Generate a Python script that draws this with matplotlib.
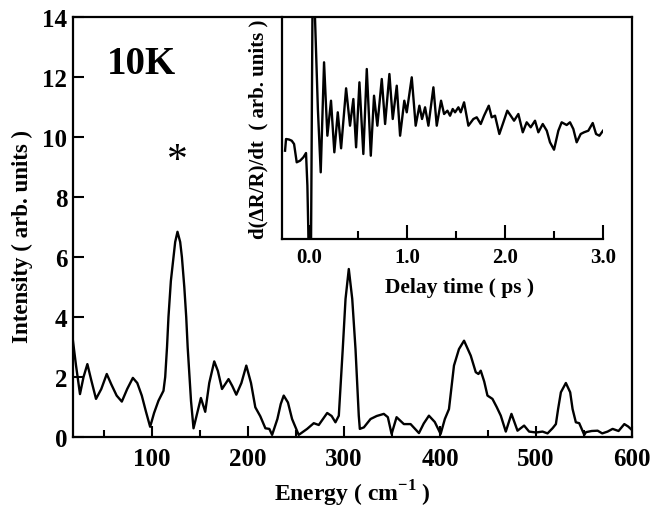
import numpy as np
import matplotlib
matplotlib.use('Agg')
import matplotlib.pyplot as plt
from matplotlib.ticker import MultipleLocator, FormatStrFormatter

plt.rcParams['font.family'] = ['Liberation Serif', 'DejaVu Serif']
plt.rcParams['font.weight'] = 'bold'
plt.rcParams['mathtext.fontset'] = 'custom'
plt.rcParams['mathtext.rm'] = 'Liberation Serif:bold'
plt.rcParams['mathtext.bf'] = 'Liberation Serif:bold'

# main spectrum
energy = [17.5, 20.6, 24.8, 28.5, 32.5, 36.5, 41.5, 47.0, 52.7, 57.5, 63.0, 68.4, 74.0, 79.9,
          84.5, 89.2, 93.5, 97.9, 102.0, 106.6, 111.8, 113.6, 115.5, 117.0, 119.5, 122.3,
          124.0, 126.4, 129.2, 131.0, 133.5, 135.5, 137.0, 139.0, 140.5, 143.1, 147.0,
          150.8, 155.3, 159.5, 164.7, 168.5, 172.8, 179.6, 183.5, 187.7, 193.0, 198.1,
          203.0, 207.5, 212.7, 218.0, 222.1, 225.0, 230.5, 234.0, 237.1, 241.5, 245.8,
          252.7, 261.5, 268.4, 273.6, 278.0, 282.4, 287.0, 291.0, 294.5, 298.6, 301.5,
          304.9, 308.5, 311.9, 315.3, 316.4, 320.6, 327.6, 334.0, 341.4, 345.6, 349.5,
          354.7, 362.3, 369.3, 378.0, 383.0, 388.4, 394.5, 400.6, 405.0, 409.3, 414.5,
          419.7, 425.0, 432.0, 437.2, 440.0, 442.4, 446.0, 449.4, 454.6, 459.0, 463.3,
          468.5, 474.4, 480.7, 487.6, 492.8, 500.0, 506.8, 512.0, 517.2, 520.7, 523.0,
          525.9, 531.1, 535.6, 538.1, 541.5, 545.0, 550.3, 552.0, 558.0, 564.2, 569.0,
          574.6, 579.8, 586.0, 592.0, 596.0, 600.7]
intensity = [3.2, 2.4, 1.43, 2.0, 2.43, 1.9, 1.27, 1.6, 2.1, 1.75, 1.38, 1.18, 1.6, 1.97,
             1.8, 1.38, 0.85, 0.34, 0.8, 1.21, 1.54, 2.0, 3.0, 4.0, 5.2, 6.0,
             6.5, 6.84, 6.5, 6.0, 5.0, 4.0, 3.0, 2.0, 1.2, 0.29, 0.8,
             1.3, 0.84, 1.8, 2.52, 2.2, 1.6, 1.93, 1.7, 1.41, 1.8, 2.38,
             1.8, 0.99, 0.69, 0.29, 0.27, 0.07, 0.6, 1.1, 1.38, 1.15, 0.6,
             0.07, 0.27, 0.46, 0.4, 0.6, 0.8, 0.7, 0.49, 0.71, 2.93, 4.6,
             5.6, 4.6, 2.93, 0.71, 0.27, 0.32, 0.6, 0.7, 0.77, 0.66, 0.1,
             0.66, 0.43, 0.43, 0.13, 0.45, 0.71, 0.5, 0.1, 0.6, 0.93, 2.38,
             2.93, 3.21, 2.71, 2.16, 2.1, 2.21, 1.85, 1.38, 1.27, 1.0, 0.71,
             0.18, 0.77, 0.21, 0.38, 0.18, 0.15, 0.18, 0.12, 0.29, 0.43, 0.93,
             1.49, 1.8, 1.49, 0.93, 0.49, 0.46, 0.07, 0.16, 0.2, 0.21, 0.12,
             0.18, 0.27, 0.2, 0.43, 0.35, 0.21]

# inset: time derivative of reflectivity
delay = [-0.245, -0.235, -0.205, -0.177, -0.153, -0.126, -0.092, -0.058, -0.031, -0.017,
         -0.008, 0.0, 0.018, 0.038, 0.061, 0.09, 0.119, 0.153, 0.187, 0.224, 0.258, 0.293,
         0.327, 0.378, 0.418, 0.452, 0.480, 0.514, 0.554, 0.589, 0.630, 0.663, 0.697,
         0.742, 0.776, 0.82, 0.854, 0.895, 0.929, 0.972, 0.997, 1.048, 1.088, 1.126,
         1.153, 1.184, 1.218, 1.269, 1.303, 1.347, 1.378, 1.412, 1.439, 1.466, 1.49,
         1.524, 1.548, 1.582, 1.626, 1.677, 1.711, 1.752, 1.786, 1.834, 1.864, 1.898,
         1.942, 1.983, 2.023, 2.058, 2.092, 2.136, 2.181, 2.221, 2.262, 2.306, 2.34,
         2.385, 2.426, 2.459, 2.5, 2.544, 2.578, 2.629, 2.663, 2.697, 2.731, 2.772,
         2.806, 2.85, 2.895, 2.929, 2.963, 3.0]
deriv = [8.83, 10.0, 9.95, 9.83, 9.5, 7.67, 7.83, 8.17, 8.6, 5.33,
         1.0, -4.0, -4.0, 28.0, 22.0, 13.0, 6.67, 17.67, 10.33, 13.83, 8.67, 12.67,
         9.07, 15.07, 11.33, 14.0, 9.17, 15.67, 8.5, 17.0, 8.33, 14.33, 11.33,
         16.0, 11.5, 16.5, 12.0, 15.33, 10.33, 13.83, 12.67, 16.17, 11.33, 13.33,
         12.0, 13.17, 11.33, 15.17, 11.33, 13.83, 12.5, 12.83, 12.33, 13.0, 12.67,
         13.17, 12.67, 13.67, 11.33, 12.0, 12.17, 11.5, 12.33, 13.33, 12.17, 12.33,
         10.5, 11.67, 12.83, 12.33, 11.83, 12.5, 10.67, 11.67, 11.17, 11.83, 10.67,
         11.5, 10.83, 9.67, 8.93, 10.83, 11.67, 11.4, 11.67, 11.0, 9.67, 10.5,
         10.67, 10.83, 11.6, 10.5, 10.33, 10.83]

fig = plt.figure(figsize=(6.51, 5.10), dpi=100)
ax = fig.add_axes([0.1121, 0.1412, 0.8587, 0.8235])
ax.plot(energy, intensity, color='black', lw=1.7, solid_joinstyle='round')
ax.set_xlim(17.5, 600)
ax.set_ylim(0, 14)
ax.xaxis.set_major_locator(MultipleLocator(100))
ax.xaxis.set_minor_locator(MultipleLocator(50))
ax.yaxis.set_major_locator(MultipleLocator(2))
ax.tick_params(axis='both', which='major', direction='in', length=8, width=1.5, labelsize=18)
ax.tick_params(axis='x', which='major', pad=7)
ax.tick_params(axis='y', which='major', pad=4)
ax.tick_params(axis='both', which='minor', direction='in', length=5, width=1.5)
ax.tick_params(axis='y', which='minor', left=False)
for s in ax.spines.values():
    s.set_linewidth(1.6)
for lab in ax.get_xticklabels() + ax.get_yticklabels():
    lab.set_fontweight('bold')
ax.set_xlabel(r'Energy ( cm$^{\mathbf{-1}}$ )', fontsize=17, fontweight='bold', labelpad=6)
ax.set_ylabel('Intensity ( arb. units )', fontsize=16.5, fontweight='bold')
ax.yaxis.set_label_coords(-0.091, 0.48)
ax.yaxis.label.set_va('center')
ax.text(0.123, 0.89, '10K', transform=ax.transAxes, fontsize=28, fontweight='bold',
        ha='center', va='center')
ax.text(126.4, 9.2, '*', fontsize=30, fontweight='normal', ha='center', va='center')

ins = fig.add_axes([0.4332, 0.5294, 0.4931, 0.4353])
ins.plot(delay, deriv, color='black', lw=1.7, solid_joinstyle='round')
ins.set_xlim(-0.276, 3.0)
ins.set_ylim(0, 22.2)
ins.patch.set_alpha(0)
ins.spines['top'].set_visible(False)
ins.spines['right'].set_visible(False)
for s in ['left', 'bottom']:
    ins.spines[s].set_linewidth(1.6)
ins.set_yticks([])
ins.xaxis.set_major_locator(MultipleLocator(1.0))
ins.xaxis.set_minor_locator(MultipleLocator(0.5))
ins.xaxis.set_major_formatter(FormatStrFormatter('%.1f'))
ins.tick_params(axis='x', which='major', direction='in', length=10, width=1.5,
                labelsize=15, pad=6)
ins.tick_params(axis='x', which='minor', direction='in', length=6, width=1.5)
for lab in ins.get_xticklabels():
    lab.set_fontweight('bold')
ins.set_xlabel('Delay time ( ps )', fontsize=15.5, fontweight='bold')
ins.xaxis.set_label_coords((460 - 282) / 321, (240 - 288) / 222)
ins.xaxis.label.set_va('center')
ins.set_ylabel('d(ΔR/R)/dt  ( arb. units )', fontsize=15, fontweight='bold')
ins.yaxis.set_label_coords(-24 / 321, 0.5)
ins.yaxis.label.set_va('center')

fig.savefig('out.png', dpi=100)
